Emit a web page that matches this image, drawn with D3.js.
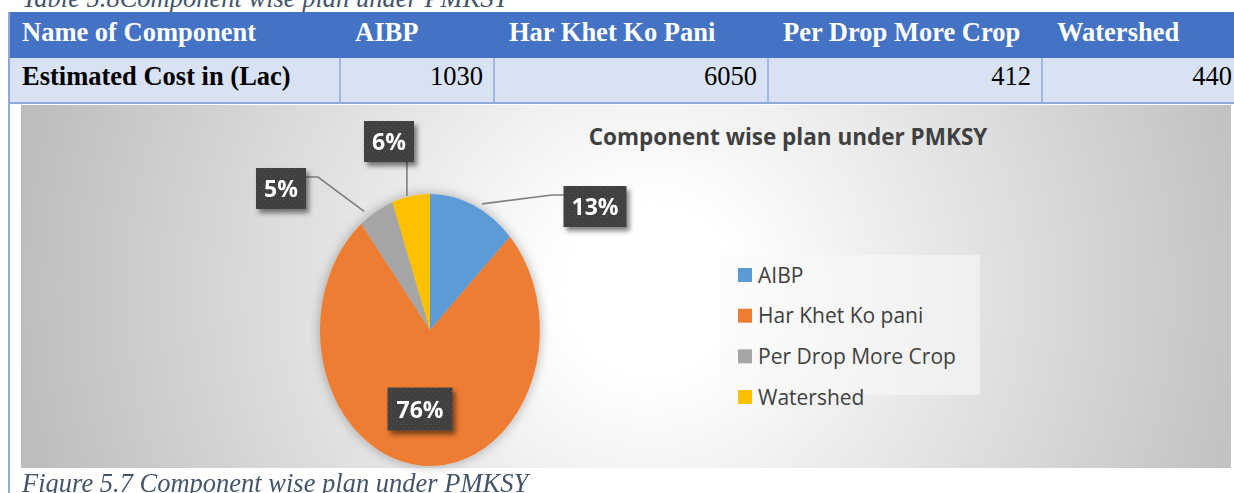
<!DOCTYPE html>
<html><head><meta charset="utf-8">
<script src="https://cdn.jsdelivr.net/npm/d3@7"></script>
<style>
html,body{margin:0;padding:0;background:#fff;overflow:hidden;}
svg{display:block;}
</style></head>
<body>
<svg id="c" width="1234" height="493"></svg>
<script>
const components = ["AIBP", "Har Khet Ko Pani", "Per Drop More Crop", "Watershed"];
const legendLabels = ["AIBP", "Har Khet Ko pani", "Per Drop More Crop", "Watershed"];
const costs = [1030, 6050, 412, 440];
const colors = ["#5B9BD5", "#ED7D31", "#A5A5A5", "#FFC000"];
const tableCaption = "Table 5.8Component wise plan under PMKSY";
const figCaption = "Figure 5.7 Component wise plan under PMKSY";
const chartTitle = "Component wise plan under PMKSY";

const svg = d3.select("#c");
const defs = svg.append("defs");

// chart background radial gradient
const rg = defs.append("radialGradient").attr("id","bg")
  .attr("gradientUnits","userSpaceOnUse").attr("cx",650).attr("cy",290).attr("r",640)
  .attr("fx",650).attr("fy",290);
rg.append("stop").attr("offset","0").attr("stop-color","#ffffff");
rg.append("stop").attr("offset","0.14").attr("stop-color","#ffffff");
rg.append("stop").attr("offset","1").attr("stop-color","#bdbdbd");

const sh = defs.append("filter").attr("id","shadow").attr("x","-30%").attr("y","-30%").attr("width","160%").attr("height","160%");
sh.append("feGaussianBlur").attr("in","SourceAlpha").attr("stdDeviation",6).attr("result","b");
sh.append("feOffset").attr("in","b").attr("dx",0).attr("dy",0).attr("result","o");
sh.append("feComponentTransfer").attr("in","o").attr("result","oa").append("feFuncA").attr("type","linear").attr("slope",0.3);
const m1 = sh.append("feMerge"); m1.append("feMergeNode").attr("in","oa"); m1.append("feMergeNode").attr("in","SourceGraphic");

const sh2 = defs.append("filter").attr("id","lshadow").attr("x","-30%").attr("y","-30%").attr("width","170%").attr("height","170%");
sh2.append("feGaussianBlur").attr("in","SourceAlpha").attr("stdDeviation",2.5).attr("result","b");
sh2.append("feOffset").attr("in","b").attr("dx",3).attr("dy",4).attr("result","o");
sh2.append("feComponentTransfer").attr("in","o").attr("result","oa").append("feFuncA").attr("type","linear").attr("slope",0.5);
const m2 = sh2.append("feMerge"); m2.append("feMergeNode").attr("in","oa"); m2.append("feMergeNode").attr("in","SourceGraphic");

const pat = defs.append("pattern").attr("id","dots").attr("patternUnits","userSpaceOnUse").attr("width",6).attr("height",6);
pat.append("rect").attr("width",6).attr("height",6).attr("fill","#3f3f3f");
pat.append("rect").attr("x",1).attr("y",1).attr("width",1).attr("height",1).attr("fill","#575757");
pat.append("rect").attr("x",4).attr("y",4).attr("width",1).attr("height",1).attr("fill","#535353");

// ---- table caption (cut at top, as in the source page)
svg.append("text").attr("x",22).attr("y",7).attr("font-family","Liberation Serif").attr("font-style","italic")
  .attr("font-size",26.5).attr("fill","#44546A").text(tableCaption);

// ---- table
const tRight = 1236;
const colEdges = [9, 340, 494, 768, 1042, tRight];
const headerY = 12, headerH = 46, rowH = 45;
const headers = ["Name of Component"].concat(components);
const tcells = ["Estimated Cost in (Lac)"].concat(costs.map(String));
svg.append("rect").attr("x",colEdges[0]).attr("y",headerY).attr("width",tRight-colEdges[0]).attr("height",headerH).attr("fill","#4472C4");
svg.append("rect").attr("x",colEdges[0]).attr("y",headerY+headerH).attr("width",tRight-colEdges[0]).attr("height",rowH).attr("fill","#D9E2F3");
headers.forEach((h,i)=>{
  svg.append("text").attr("x",colEdges[i]+(i===0?13:15)).attr("y",headerY+29).attr("font-family","Liberation Serif")
    .attr("font-weight","bold").attr("font-size",26.5).attr("fill","#fff").text(h);
});
tcells.forEach((t,i)=>{
  const tx = svg.append("text").attr("y",headerY+headerH+27).attr("font-family","Liberation Serif")
    .attr("font-size",26.5).attr("fill","#000").text(t);
  if(i===0) tx.attr("x",colEdges[0]+13).attr("font-weight","bold");
  else tx.attr("x",colEdges[i+1]-(i===4?4:11)).attr("text-anchor","end");
});
for(let i=1;i<colEdges.length-1;i++){
  svg.append("line").attr("x1",colEdges[i]).attr("x2",colEdges[i]).attr("y1",headerY+headerH).attr("y2",headerY+headerH+rowH)
    .attr("stroke","#8EAADB").attr("stroke-width",1.5);
}
svg.append("line").attr("x1",colEdges[0]).attr("x2",tRight).attr("y1",headerY+headerH+rowH).attr("y2",headerY+headerH+rowH)
  .attr("stroke","#8EAADB").attr("stroke-width",2);
svg.append("line").attr("x1",colEdges[0]).attr("x2",colEdges[0]).attr("y1",headerY).attr("y2",493)
  .attr("stroke","#8EAADB").attr("stroke-width",2);

// ---- chart area
const cx0 = 21, cy0 = 105, cw = 1210, ch = 363;
svg.append("rect").attr("x",cx0).attr("y",cy0).attr("width",cw).attr("height",ch).attr("fill","url(#bg)");

svg.append("text").attr("x",788).attr("y",145).attr("text-anchor","middle").attr("font-family","Open Sans")
  .attr("font-weight","bold").attr("font-size",22.5).attr("fill","#404040").text(chartTitle);

// ---- legend
const lgx = 720, lgy = 255;
svg.append("rect").attr("x",lgx).attr("y",lgy).attr("width",260).attr("height",140).attr("fill","#f8f8f8").attr("opacity",0.6);
const ly = d3.scalePoint().domain(legendLabels).range([275, 397]);
legendLabels.forEach((l,i)=>{
  svg.append("rect").attr("x",738).attr("y",ly(l)-7).attr("width",14).attr("height",14).attr("fill",colors[i]);
  svg.append("text").attr("x",758).attr("y",ly(l)+7.5).attr("font-family","Open Sans").attr("font-size",21)
    .attr("fill","#404040").text(l);
});

// ---- pie
const pcx = 430, pcy = 330, rx = 110, ry = 136;
const pie = d3.pie().sort(null).value(d=>d);
const arcs = pie(costs);
const arc = d3.arc().innerRadius(0).outerRadius(1);
const total = d3.sum(costs);
const pg = svg.append("g").attr("transform",`translate(${pcx},${pcy})`).attr("filter","url(#shadow)");
pg.selectAll("path").data(arcs).join("path")
  .attr("d", arc)
  .attr("transform",`scale(${rx},${ry})`)
  .attr("fill",(d,i)=>colors[i]);

const onEdge = (a, k=1) => [pcx + Math.sin(a)*rx*k, pcy - Math.cos(a)*ry*k];
const pct = v => Math.round(v/total*100) + "%";

// label boxes [centre x, centre y, width, height] and leader routes
const labelSpec = [
  {box:[595,206.5,63,41], leader: a => { const p = onEdge(a,1.01); return [[p[0]+8,p[1]],[552,195],[564,195]]; }},
  {box:[420,409,65,43], leader: null},
  {box:[281,188.5,50,41], leader: a => { const p = onEdge(a,1.0); return [[p[0]-12,p[1]],[318,177],[306,177]]; }},
  {box:[389,141.5,50,41], leader: a => { const p = onEdge(a,1.0); return [[p[0]-4,p[1]],[p[0]-4,162]]; }}
];
const lg = svg.append("g");
arcs.forEach((d,i)=>{
  const mid = (d.startAngle+d.endAngle)/2;
  const s = labelSpec[i];
  if(s.leader){
    lg.append("path").attr("d", d3.line()(s.leader(mid))).attr("fill","none").attr("stroke","#7f7f7f").attr("stroke-width",1.6);
  }
});
arcs.forEach((d,i)=>{
  const [bx,by,bw,bh] = labelSpec[i].box;
  lg.append("rect").attr("x",bx-bw/2).attr("y",by-bh/2).attr("width",bw).attr("height",bh)
    .attr("fill","url(#dots)").attr("filter","url(#lshadow)");
  lg.append("text").attr("x",bx).attr("y",by+8.5).attr("text-anchor","middle").attr("font-family","Open Sans")
    .attr("font-weight","bold").attr("font-size",23).attr("fill","#fff").text(pct(d.value));
});

// ---- figure caption
svg.append("text").attr("x",22).attr("y",492).attr("font-family","Liberation Serif").attr("font-style","italic")
  .attr("font-size",26.5).attr("fill","#44546A").text(figCaption);
</script>
</body></html>
